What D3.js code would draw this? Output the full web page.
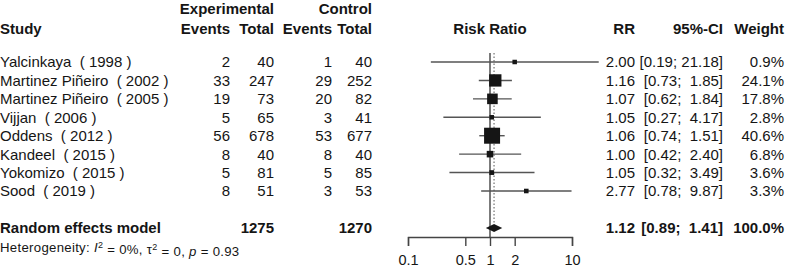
<!DOCTYPE html>
<html>
<head>
<meta charset="utf-8">
<script src="https://cdn.jsdelivr.net/npm/d3@7"></script>
<style>
  body { margin: 0; background: #fff; }
  text { font-family: "Liberation Sans", Arial, sans-serif; fill: #151515; white-space: pre; }
</style>
</head>
<body>
<div id="chart"></div>
<script>
// Data
const studies = ['Yalcinkaya  ( 1998 )', 'Martinez Piñeiro  ( 2002 )', 'Martinez Piñeiro  ( 2005 )',
  'Vijjan  ( 2006 )', 'Oddens  ( 2012 )', 'Kandeel  ( 2015 )', 'Yokomizo  ( 2015 )', 'Sood  ( 2019 )']
const expEvents = [2, 33, 19, 5, 56, 8, 5, 8]
const expTotal = [40, 247, 73, 65, 678, 40, 81, 51]
const ctrlEvents = [1, 29, 20, 3, 53, 8, 5, 3]
const ctrlTotal = [40, 252, 82, 41, 677, 40, 85, 53]
const rr = [2.00, 1.16, 1.07, 1.05, 1.06, 1.00, 1.05, 2.77]
const lower = [0.19, 0.73, 0.62, 0.27, 0.74, 0.42, 0.32, 0.78]
const upper = [21.18, 1.85, 1.84, 4.17, 1.51, 2.40, 3.49, 9.87]
const weight = [0.9, 24.1, 17.8, 2.8, 40.6, 6.8, 3.6, 3.3]
const pooled = { rr: 1.12, lower: 0.89, upper: 1.41, weight: 100.0, expTotal: 1275, ctrlTotal: 1270 }
const ticks = [0.1, 0.5, 1, 2, 10]

const dimensions = { width: 787, height: 272 }

const svg = d3.select('#chart')
  .append('svg')
  .attr('width', dimensions.width)
  .attr('height', dimensions.height)

// Scales
const xScale = d3.scaleLog().domain([0.1, 10]).range([408, 572])
const rowY = d3.scaleLinear().domain([0, 7]).range([62, 191])
const summaryY = 228
const sizeScale = d3.scaleSqrt().domain([0, 40.6]).range([0, 16])

const fs = 15
const addText = (x, y, str, anchor, bold, size) => svg.append('text')
  .attr('x', x).attr('y', y)
  .attr('dy', '0.36em')
  .attr('text-anchor', anchor || 'start')
  .attr('font-size', size || fs)
  .attr('font-weight', bold ? 'bold' : 'normal')
  .text(str)

// Headers
addText(274, 9, 'Experimental', 'end', true)
addText(372, 9, 'Control', 'end', true)
addText(0, 29, 'Study', 'start', true)
addText(230, 29, 'Events', 'end', true)
addText(274, 29, 'Total', 'end', true)
addText(332, 29, 'Events', 'end', true)
addText(372, 29, 'Total', 'end', true)
addText(490, 29, 'Risk Ratio', 'middle', true)
addText(635, 29, 'RR', 'end', true)
addText(723, 29, '95%-CI', 'end', true)
addText(784, 29, 'Weight', 'end', true)

const fmtCI = (l, u) => {
  const a = l.toFixed(2), b = u.toFixed(2)
  return '[' + a + '; ' + b.padStart(5, ' ') + ']'
}

// Rows
studies.forEach((s, i) => {
  const y = rowY(i)
  addText(0, y, s)
  addText(230, y, expEvents[i], 'end')
  addText(274, y, expTotal[i], 'end')
  addText(332, y, ctrlEvents[i], 'end')
  addText(372, y, ctrlTotal[i], 'end')
  addText(635, y, rr[i].toFixed(2), 'end')
  addText(723, y, fmtCI(lower[i], upper[i]), 'end')
  addText(784, y, weight[i].toFixed(1) + '%', 'end')
})

// Summary row
addText(0, summaryY, 'Random effects model', 'start', true)
addText(274, summaryY, pooled.expTotal, 'end', true)
addText(372, summaryY, pooled.ctrlTotal, 'end', true)
addText(635, summaryY, pooled.rr.toFixed(2), 'end', true)
addText(723, summaryY, fmtCI(pooled.lower, pooled.upper), 'end', true)
addText(784, summaryY, pooled.weight.toFixed(1) + '%', 'end', true)

const het = svg.append('text')
  .attr('x', 0).attr('y', 247).attr('dy', '0.36em')
  .attr('font-size', 13.2)
  .attr('letter-spacing', 0.3)
het.append('tspan').text('Heterogeneity: ')
het.append('tspan').attr('font-style', 'italic').text('I')
het.append('tspan').attr('dy', '-0.45em').attr('font-size', 9).text('2')
het.append('tspan').attr('dy', '0.45em').text(' = 0%, τ')
het.append('tspan').attr('dy', '-0.45em').attr('font-size', 9).text('2')
het.append('tspan').attr('dy', '0.45em').text(' = 0, ')
het.append('tspan').attr('font-style', 'italic').text('p')
het.append('tspan').text(' = 0.93')

// Reference lines
svg.append('line')
  .attr('x1', xScale(1)).attr('x2', xScale(1))
  .attr('y1', 53).attr('y2', 237)
  .attr('stroke', '#444').attr('stroke-width', 1.4)
svg.append('line')
  .attr('x1', xScale(pooled.rr)).attr('x2', xScale(pooled.rr))
  .attr('y1', 53).attr('y2', 224)
  .attr('stroke', '#555').attr('stroke-width', 1)
  .attr('stroke-dasharray', '1.5,2')

// CI lines and squares
studies.forEach((s, i) => {
  const y = rowY(i)
  svg.append('line')
    .attr('x1', xScale(lower[i])).attr('x2', xScale(upper[i]))
    .attr('y1', y).attr('y2', y)
    .attr('stroke', '#555').attr('stroke-width', 1.4)
  const side = Math.max(4.5, sizeScale(weight[i]))
  svg.append('rect')
    .attr('x', xScale(rr[i]) - side / 2).attr('y', y - side / 2)
    .attr('width', side).attr('height', side)
    .attr('fill', '#151515')
})

// Diamond
const dx = [xScale(pooled.lower), xScale(pooled.rr), xScale(pooled.upper), xScale(pooled.rr)]
const dy = [summaryY, summaryY - 4, summaryY, summaryY + 4]
svg.append('polygon')
  .attr('points', dx.map((x, i) => x + ',' + dy[i]).join(' '))
  .attr('fill', '#151515')

// Axis
const xAxis = d3.axisBottom(xScale)
  .tickValues(ticks)
  .tickFormat(d => d)
  .tickSizeOuter(0)
  .tickSize(9)
  .tickPadding(9)
const axisG = svg.append('g')
  .attr('transform', 'translate(0, 237)')
  .call(xAxis)
axisG.select('.domain').attr('stroke', '#444').attr('stroke-width', 1.4)
axisG.selectAll('.tick line').attr('stroke', '#444').attr('stroke-width', 1.4)
axisG.selectAll('.tick text')
  .attr('font-size', 14.5)
  .attr('font-family', '"Liberation Sans", Arial, sans-serif')
  .attr('fill', '#151515')
</script>
</body>
</html>
